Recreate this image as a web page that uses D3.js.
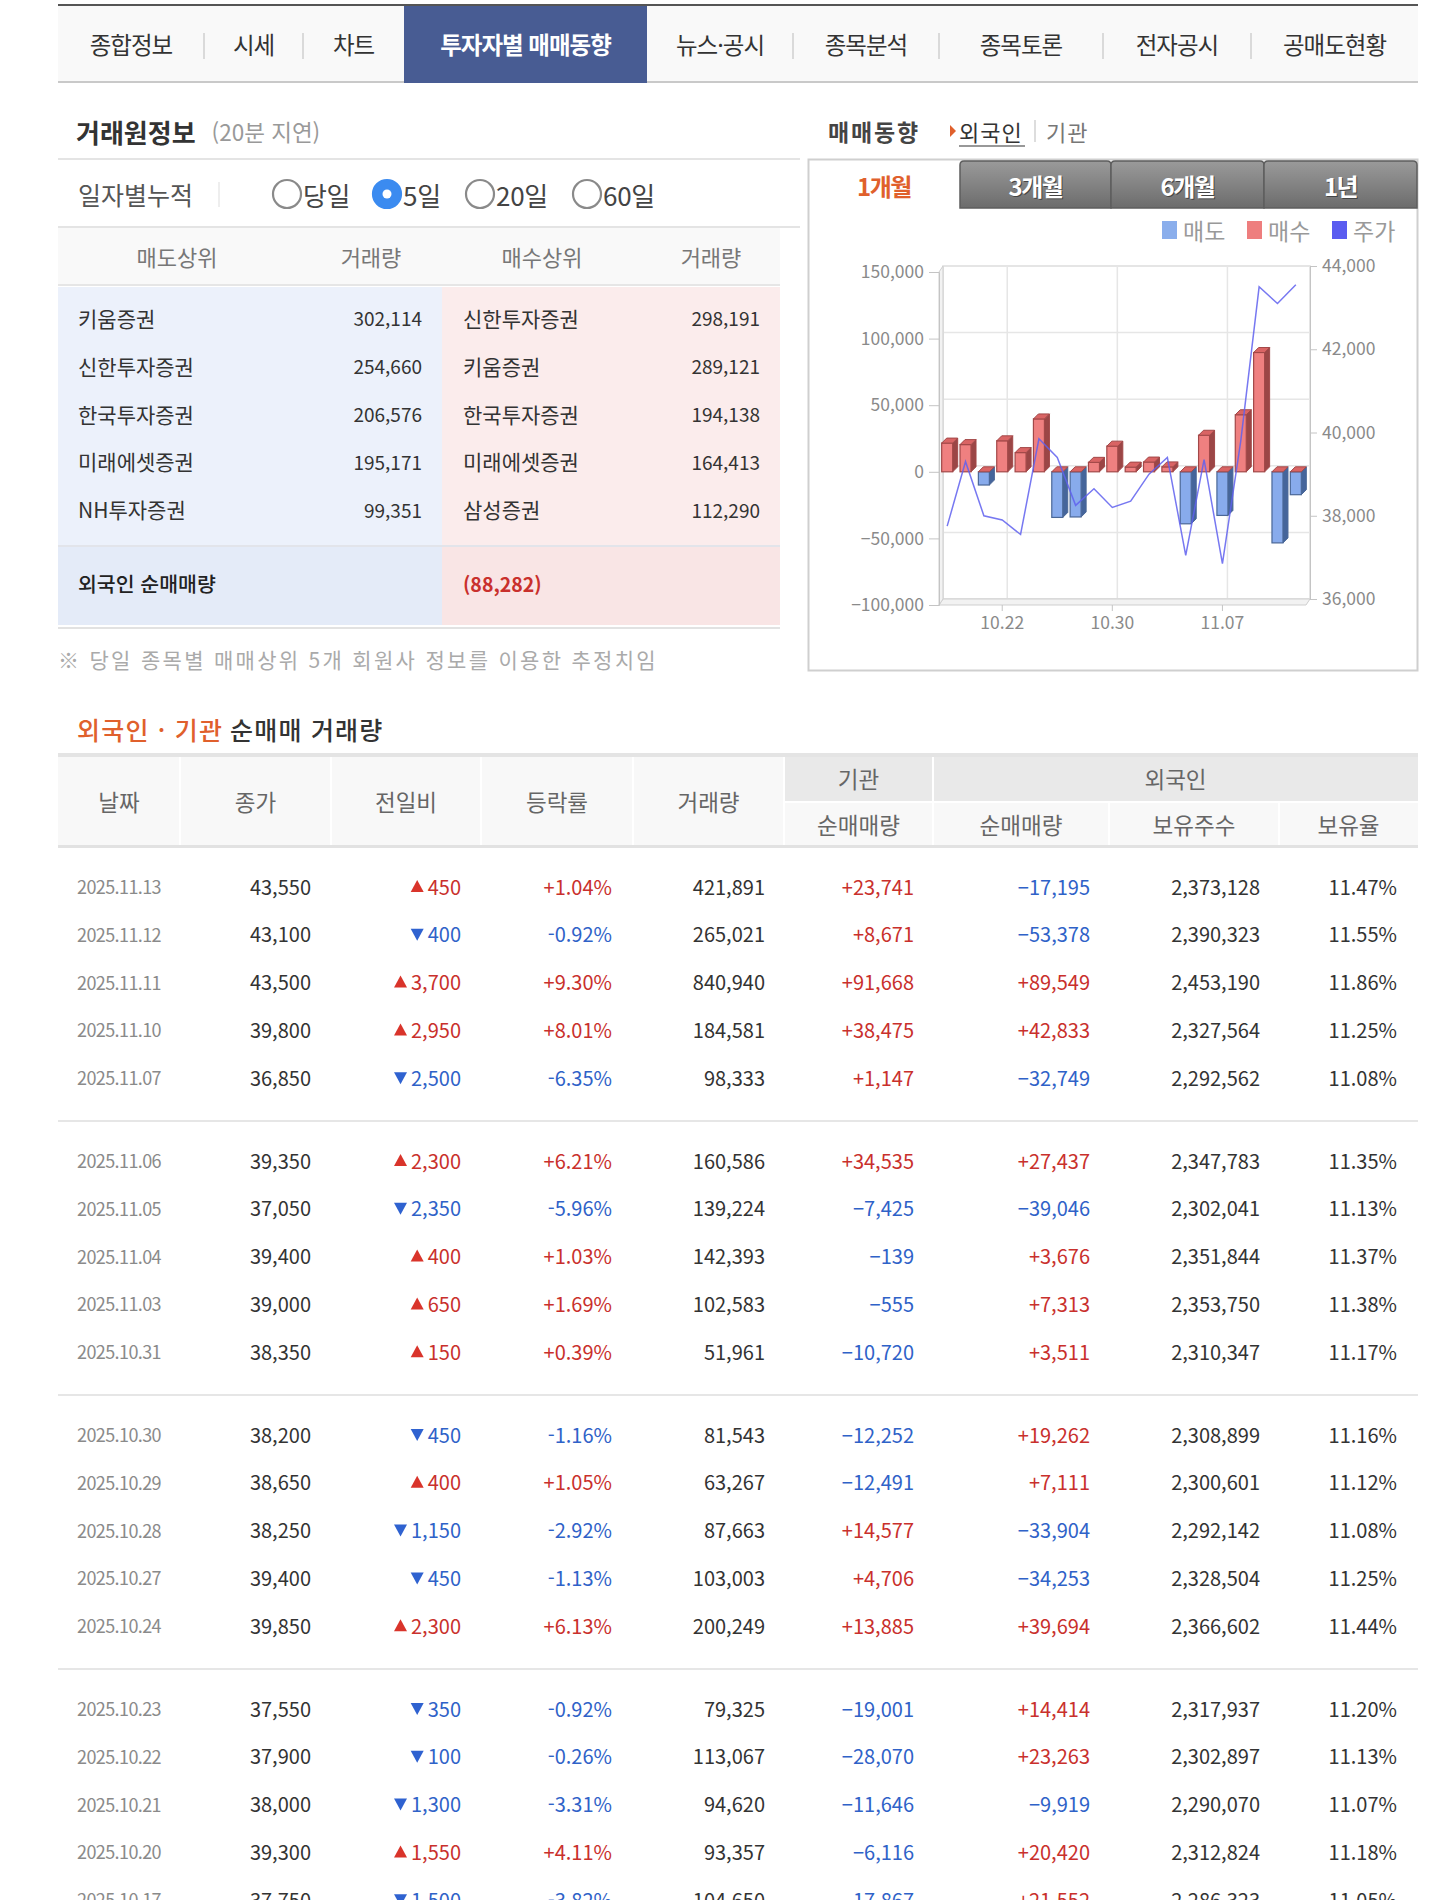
<!DOCTYPE html>
<html lang="ko">
<head>
<meta charset="utf-8">
<script src="https://cdn.jsdelivr.net/npm/d3@7"></script>
<style>
body { margin: 0; background: #fff; }
svg text { font-family: "Noto Sans CJK KR", "Noto Sans", sans-serif; }
</style>
</head>
<body>
<svg id="page"></svg>
<script>
// ---- data ----
const navItems = ['종합정보', '시세', '차트', '투자자별 매매동향', '뉴스·공시', '종목분석', '종목토론', '전자공시', '공매도현황'];
const navActive = 3;

const periodOptions = ['당일', '5일', '20일', '60일'];
const periodSelected = 1;

const sellBrokers = ['키움증권', '신한투자증권', '한국투자증권', '미래에셋증권', 'NH투자증권'];
const sellVolumes = [302114, 254660, 206576, 195171, 99351];
const buyBrokers = ['신한투자증권', '키움증권', '한국투자증권', '미래에셋증권', '삼성증권'];
const buyVolumes = [298191, 289121, 194138, 164413, 112290];
const foreignNetTotal = -88282;

const chartTabs = ['1개월', '3개월', '6개월', '1년'];
const legendItems = ['매도', '매수', '주가'];
const leftTicks = [150000, 100000, 50000, 0, -50000, -100000];
const rightTicks = [44000, 42000, 40000, 38000, 36000];
const xTickLabels = ['10.22', '10.30', '11.07'];

// newest first, as in the table
const dates = ['2025.11.13', '2025.11.12', '2025.11.11', '2025.11.10', '2025.11.07',
  '2025.11.06', '2025.11.05', '2025.11.04', '2025.11.03', '2025.10.31',
  '2025.10.30', '2025.10.29', '2025.10.28', '2025.10.27', '2025.10.24',
  '2025.10.23', '2025.10.22', '2025.10.21', '2025.10.20', '2025.10.17'];
const closes = [43550, 43100, 43500, 39800, 36850, 39350, 37050, 39400, 39000, 38350,
  38200, 38650, 38250, 39400, 39850, 37550, 37900, 38000, 39300, 37750];
const changes = [450, -400, 3700, 2950, -2500, 2300, -2350, 400, 650, 150,
  -450, 400, -1150, -450, 2300, -350, -100, -1300, 1550, -1500];
const rates = [1.04, -0.92, 9.30, 8.01, -6.35, 6.21, -5.96, 1.03, 1.69, 0.39,
  -1.16, 1.05, -2.92, -1.13, 6.13, -0.92, -0.26, -3.31, 4.11, -3.82];
const volumes = [421891, 265021, 840940, 184581, 98333, 160586, 139224, 142393, 102583, 51961,
  81543, 63267, 87663, 103003, 200249, 79325, 113067, 94620, 93357, 104650];
const instNet = [23741, 8671, 91668, 38475, 1147, 34535, -7425, -139, -555, -10720,
  -12252, -12491, 14577, 4706, 13885, -19001, -28070, -11646, -6116, -17867];
const foreignNet = [-17195, -53378, 89549, 42833, -32749, 27437, -39046, 3676, 7313, 3511,
  19262, 7111, -33904, -34253, 39694, 14414, 23263, -9919, 20420, 21552];
const foreignHold = [2373128, 2390323, 2453190, 2327564, 2292562, 2347783, 2302041, 2351844, 2353750, 2310347,
  2308899, 2300601, 2292142, 2328504, 2366602, 2317937, 2302897, 2290070, 2312824, 2286323];
const foreignRatio = [11.47, 11.55, 11.86, 11.25, 11.08, 11.35, 11.13, 11.37, 11.38, 11.17,
  11.16, 11.12, 11.08, 11.25, 11.44, 11.20, 11.13, 11.07, 11.18, 11.05];

// ---- page ----
const W = 1441, H = 1900;
const RED = '#c9302c', BLUE = '#2f62c8', ORANGE = '#e0602c';
const fmt = d3.format(',');

const svg = d3.select('#page').attr('width', W).attr('height', H);

const defs = svg.append('defs');
const grad = defs.append('linearGradient').attr('id', 'tabGrad')
  .attr('x1', 0).attr('y1', 0).attr('x2', 0).attr('y2', 1);
grad.append('stop').attr('offset', '0%').attr('stop-color', '#9a9a9a');
grad.append('stop').attr('offset', '100%').attr('stop-color', '#6c6c6c');

// nav bar
const navEdges = [58, 204, 303, 404, 647, 793, 939, 1103, 1251, 1418];
const nav = svg.append('g');
nav.append('rect').attr('x', 58).attr('y', 6).attr('width', 1360).attr('height', 76).attr('fill', '#f9f9f9');
nav.append('rect').attr('x', 58).attr('y', 4).attr('width', 1360).attr('height', 2).attr('fill', '#555');
nav.append('rect').attr('x', 58).attr('y', 81).attr('width', 1360).attr('height', 2).attr('fill', '#c9c9c9');
nav.append('rect').attr('x', navEdges[navActive]).attr('y', 6)
  .attr('width', navEdges[navActive + 1] - navEdges[navActive]).attr('height', 77).attr('fill', '#485c93');

nav.selectAll('line.sep')
  .data(d3.range(1, navItems.length).filter(i => i !== navActive && i !== navActive + 1))
  .enter().append('line')
  .attr('x1', i => navEdges[i]).attr('x2', i => navEdges[i])
  .attr('y1', 33).attr('y2', 59).attr('stroke', '#cfcfcf').attr('stroke-width', 1.5);

nav.selectAll('text')
  .data(navItems)
  .enter().append('text')
  .attr('x', (d, i) => (navEdges[i] + navEdges[i + 1]) / 2)
  .attr('y', 44)
  .attr('text-anchor', 'middle')
  .attr('dominant-baseline', 'central')
  .attr('font-size', 23.5)
  .attr('letter-spacing', -1)
  .attr('font-weight', (d, i) => i === navActive ? 700 : 400)
  .attr('fill', (d, i) => i === navActive ? '#fff' : '#333')
  .text(d => d);

// ---- left panel: 거래원정보 ----
const left = svg.append('g');
const title1 = left.append('text').attr('x', 76).attr('y', 131).attr('dominant-baseline', 'central');
title1.append('tspan').attr('font-size', 26).attr('font-weight', 700).attr('fill', '#333').text('거래원정보');
title1.append('tspan').attr('font-size', 22.5).attr('fill', '#999').attr('dx', 16).text('(20분 지연)');

left.append('rect').attr('x', 58).attr('y', 158).attr('width', 742).attr('height', 2).attr('fill', '#e4e4e4');
left.append('text').attr('x', 78).attr('y', 194).attr('dominant-baseline', 'central')
  .attr('font-size', 25).attr('fill', '#555').text('일자별누적');
left.append('line').attr('x1', 219).attr('x2', 219).attr('y1', 182).attr('y2', 207).attr('stroke', '#ddd');

const radioX = [287, 387, 480, 587];
const radios = left.selectAll('g.radio').data(periodOptions).enter().append('g')
  .attr('transform', (d, i) => `translate(${radioX[i]},194)`);
radios.append('circle').attr('r', 14)
  .attr('fill', (d, i) => i === periodSelected ? '#3b8bf0' : '#fff')
  .attr('stroke', (d, i) => i === periodSelected ? '#3b8bf0' : '#8a8a8a')
  .attr('stroke-width', 2.2);
radios.filter((d, i) => i === periodSelected).append('circle').attr('r', 4.5).attr('fill', '#fff');
radios.append('text').attr('x', 16).attr('dominant-baseline', 'central')
  .attr('font-size', 26).attr('fill', '#444').attr('letter-spacing', -0.3).text(d => d);

left.append('rect').attr('x', 58).attr('y', 226).attr('width', 742).attr('height', 2).attr('fill', '#e4e4e4');
left.append('rect').attr('x', 58).attr('y', 228).attr('width', 722).attr('height', 56).attr('fill', '#f9f9f9');
left.append('rect').attr('x', 58).attr('y', 284).attr('width', 722).attr('height', 2).attr('fill', '#e6e6e6');

const headCols = [['매도상위', 177], ['거래량', 371], ['매수상위', 542], ['거래량', 711]];
left.selectAll('text.head').data(headCols).enter().append('text')
  .attr('x', d => d[1]).attr('y', 256).attr('text-anchor', 'middle').attr('dominant-baseline', 'central')
  .attr('font-size', 22).attr('fill', '#777').text(d => d[0]);

left.append('rect').attr('x', 58).attr('y', 287).attr('width', 384).attr('height', 258).attr('fill', '#ecf1fb');
left.append('rect').attr('x', 442).attr('y', 287).attr('width', 338).attr('height', 258).attr('fill', '#fbecec');
left.append('rect').attr('x', 58).attr('y', 545).attr('width', 722).attr('height', 2).attr('fill', '#e2e4ea');
left.append('rect').attr('x', 58).attr('y', 547).attr('width', 384).attr('height', 78).attr('fill', '#e4ebf8');
left.append('rect').attr('x', 442).attr('y', 547).attr('width', 338).attr('height', 78).attr('fill', '#f9e5e5');
left.append('rect').attr('x', 58).attr('y', 627).attr('width', 722).attr('height', 2).attr('fill', '#e2e2e2');

const brokerRow = d3.scaleBand().domain(d3.range(5)).range([294, 533]);
const rowsG = left.selectAll('g.brow').data(d3.range(5)).enter().append('g')
  .attr('transform', i => `translate(0,${brokerRow(i) + brokerRow.bandwidth() / 2})`)
  .attr('fill', '#333');
rowsG.append('text').attr('x', 78).attr('dominant-baseline', 'central').attr('font-size', 21).text(i => sellBrokers[i]);
rowsG.append('text').attr('x', 422).attr('text-anchor', 'end').attr('dominant-baseline', 'central')
  .attr('font-size', 19).text(i => fmt(sellVolumes[i]));
rowsG.append('text').attr('x', 463).attr('dominant-baseline', 'central').attr('font-size', 21).text(i => buyBrokers[i]);
rowsG.append('text').attr('x', 760).attr('text-anchor', 'end').attr('dominant-baseline', 'central')
  .attr('font-size', 19).text(i => fmt(buyVolumes[i]));

left.append('text').attr('x', 78).attr('y', 583).attr('dominant-baseline', 'central')
  .attr('font-size', 20.5).attr('font-weight', 500).attr('fill', '#222').text('외국인 순매매량');
left.append('text').attr('x', 463).attr('y', 583).attr('dominant-baseline', 'central')
  .attr('font-size', 19.5).attr('font-weight', 700).attr('fill', RED)
  .text(foreignNetTotal < 0 ? `(${fmt(-foreignNetTotal)})` : fmt(foreignNetTotal));

left.append('text').attr('x', 58).attr('y', 659).attr('dominant-baseline', 'central')
  .attr('font-size', 21).attr('letter-spacing', 2.3).attr('fill', '#aaa')
  .text('※ 당일 종목별 매매상위 5개 회원사 정보를 이용한 추정치임');

// ---- right panel: 매매동향 chart ----
const right = svg.append('g');
right.append('text').attr('x', 828).attr('y', 131).attr('dominant-baseline', 'central')
  .attr('font-size', 23).attr('letter-spacing', 1.8).attr('font-weight', 700).attr('fill', '#444').text('매매동향');
right.append('path').attr('d', 'M950,125 L956,131 L950,137 Z').attr('fill', ORANGE);
right.append('text').attr('x', 959).attr('y', 131).attr('dominant-baseline', 'central')
  .attr('font-size', 22).attr('letter-spacing', 1).attr('fill', '#333').text('외국인');
right.append('line').attr('x1', 959).attr('x2', 1025).attr('y1', 146).attr('y2', 146).attr('stroke', '#333').attr('stroke-width', 1.2);
right.append('line').attr('x1', 1035).attr('x2', 1035).attr('y1', 120).attr('y2', 142).attr('stroke', '#bbb');
right.append('text').attr('x', 1046).attr('y', 131).attr('dominant-baseline', 'central')
  .attr('font-size', 22).attr('letter-spacing', 1).attr('fill', '#777').text('기관');

right.append('rect').attr('x', 808.5).attr('y', 159.5).attr('width', 609).attr('height', 511)
  .attr('fill', '#fff').attr('stroke', '#cfcfcf').attr('stroke-width', 2);

const tabEdges = [808, 960, 1111, 1264, 1417];
const tabs = right.selectAll('g.tab').data(chartTabs).enter().append('g');
tabs.filter((d, i) => i > 0).append('path')
  .attr('d', (d, i) => {
    const x0 = tabEdges[i + 1], x1 = tabEdges[i + 2];
    return `M${x0},208 L${x0},165 Q${x0},161 ${x0 + 4},161 L${x1 - 4},161 Q${x1},161 ${x1},165 L${x1},208 Z`;
  })
  .attr('fill', 'url(#tabGrad)').attr('stroke', '#5e5e5e').attr('stroke-width', 1.5);
tabs.filter((d, i) => i > 0).append('text')
  .attr('x', (d, i) => (tabEdges[i + 1] + tabEdges[i + 2]) / 2 + 1).attr('y', 186)
  .attr('text-anchor', 'middle').attr('dominant-baseline', 'central')
  .attr('font-size', 24).attr('font-weight', 700).attr('letter-spacing', -1.5).attr('fill', '#444').text(d => d);
tabs.append('text')
  .attr('x', (d, i) => (tabEdges[i] + tabEdges[i + 1]) / 2).attr('y', 185)
  .attr('text-anchor', 'middle').attr('dominant-baseline', 'central')
  .attr('font-size', 24).attr('font-weight', 700).attr('letter-spacing', -1.5)
  .attr('fill', (d, i) => i === 0 ? ORANGE : '#fff').text(d => d);

const legendColors = ['#8aaeec', '#ee7e7e', '#5a5cf0'];
const legendX = [1162, 1247, 1332];
const leg = right.selectAll('g.leg').data(legendItems).enter().append('g')
  .attr('transform', (d, i) => `translate(${legendX[i]},230)`);
leg.append('rect').attr('x', 0).attr('y', -9).attr('width', 15).attr('height', 18).attr('fill', (d, i) => legendColors[i]);
leg.append('text').attr('x', 21).attr('dominant-baseline', 'central')
  .attr('font-size', 23).attr('fill', '#999').text(d => d);

// chart data, oldest first
const chartDates = dates.slice().reverse().map(d => d.slice(5));
const chartNet = foreignNet.slice().reverse();
const chartClose = closes.slice().reverse();

const depth = { x: 4, y: -6 };
const yL = d3.scaleLinear().domain([-100000, 150000]).range([605, 272]);
const yR = d3.scaleLinear().domain([36000, 44000]).range([599, 266]);
const x = d3.scaleBand().domain(chartDates).range([938, 1305]);
const cx = d => x(d) + x.bandwidth() / 2;

const chart = right.append('g');
const backX0 = 939 + depth.x, backX1 = 1306 + depth.x;

// back wall
chart.append('rect').attr('x', backX0).attr('y', yL(150000) + depth.y)
  .attr('width', backX1 - backX0).attr('height', yL(-100000) - yL(150000))
  .attr('fill', '#fff').attr('stroke', '#dcdcdc').attr('stroke-width', 1.5);
chart.selectAll('line.hgrid').data(leftTicks).enter().append('line')
  .attr('x1', backX0).attr('x2', backX1)
  .attr('y1', d => yL(d) + depth.y).attr('y2', d => yL(d) + depth.y)
  .attr('stroke', '#e6e6e6').attr('stroke-width', 1.5);
chart.selectAll('line.vgrid').data(xTickLabels).enter().append('line')
  .attr('x1', d => cx(d) + depth.x + 1).attr('x2', d => cx(d) + depth.x + 1)
  .attr('y1', yL(150000) + depth.y).attr('y2', yL(-100000) + depth.y)
  .attr('stroke', '#e6e6e6').attr('stroke-width', 1.5);

// floor and left wall edges
chart.append('path')
  .attr('d', `M939,${yL(-100000)} L1306,${yL(-100000)} L${backX1},${yL(-100000) + depth.y} L${backX0},${yL(-100000) + depth.y} Z`)
  .attr('fill', '#f2f2f2').attr('stroke', '#cfcfcf');
chart.append('path')
  .attr('d', `M939,${yL(-100000)} L939,${yL(150000)} L${backX0},${yL(150000) + depth.y} L${backX0},${yL(-100000) + depth.y} Z`)
  .attr('fill', '#f2f2f2').attr('stroke', '#cfcfcf');

const axisFont = sel => sel.attr('fill', '#8a8a8a').attr('font-size', 17.5)
  .attr('font-family', '"DejaVu Sans Condensed", sans-serif');

// left axis
const axisL = d3.axisLeft(yL).tickValues(leftTicks).tickSize(10).tickPadding(5).tickFormat(fmt);
const gL = chart.append('g').attr('transform', 'translate(939,0)').call(axisL);
gL.select('.domain').attr('stroke', '#c4c4c4');
gL.selectAll('.tick line').attr('stroke', '#c4c4c4');
gL.selectAll('.tick text').call(axisFont);

// right axis
const axisR = d3.axisRight(yR).tickValues(rightTicks).tickSize(7).tickPadding(5).tickFormat(fmt);
const gR = chart.append('g').attr('transform', `translate(${backX1},0)`).call(axisR);
gR.select('.domain').attr('stroke', '#c4c4c4');
gR.selectAll('.tick line').attr('stroke', '#c4c4c4');
gR.selectAll('.tick text').call(axisFont);

// bottom axis
const axisB = d3.axisBottom(x).tickValues(xTickLabels).tickSize(6).tickPadding(6);
const gB = chart.append('g').attr('transform', `translate(0,${yL(-100000)})`).call(axisB);
gB.select('.domain').remove();
gB.selectAll('.tick line').attr('stroke', '#c4c4c4');
gB.selectAll('.tick text').call(axisFont);

// 3D bars
const bd = { x: 5, y: -5 }, halfW = 5.5;
const bars = chart.selectAll('g.bar').data(chartDates).enter().append('g');
bars.each(function (d, i) {
  const g = d3.select(this);
  const v = chartNet[i];
  const pos = v >= 0;
  const x0 = cx(d) - halfW, x1 = cx(d) + halfW;
  const yT = yL(Math.max(v, 0)), yB = yL(Math.min(v, 0));
  const front = pos ? '#ef8080' : '#88abec';
  const side = pos ? '#9b4646' : '#45659b';
  const edge = pos ? '#a24848' : '#4a6797';
  g.append('path')
    .attr('d', `M${x1},${yT} L${x1 + bd.x},${yT + bd.y} L${x1 + bd.x},${yB + bd.y} L${x1},${yB} Z`)
    .attr('fill', side).attr('stroke', edge).attr('stroke-width', 1);
  g.append('rect').attr('x', x0).attr('y', yT).attr('width', x1 - x0).attr('height', Math.max(yB - yT, 0.5))
    .attr('fill', front).attr('stroke', edge).attr('stroke-width', 1.2);
  g.append('path')
    .attr('d', `M${x0},${yT} L${x0 + bd.x},${yT + bd.y} L${x1 + bd.x},${yT + bd.y} L${x1},${yT} Z`)
    .attr('fill', '#d96464').attr('stroke', '#a24848').attr('stroke-width', 1);
});

// price line
const priceLine = d3.line().x(d => cx(d)).y((d, i) => yR(chartClose[i]));
chart.append('path').datum(chartDates).attr('d', priceLine)
  .attr('fill', 'none').attr('stroke', '#5f60ee').attr('stroke-width', 1.5).attr('opacity', 0.85);

// ---- bottom table ----
const tbl = svg.append('g');
const t2 = tbl.append('text').attr('x', 77).attr('y', 729).attr('dominant-baseline', 'central')
  .attr('font-size', 25).attr('letter-spacing', 1.2).attr('font-weight', 500);
t2.append('tspan').attr('fill', ORANGE).text('외국인 · 기관');
t2.append('tspan').attr('fill', '#333').attr('dx', 7).text('순매매 거래량');

const colEdges = [58, 180, 331, 481, 633, 784, 933, 1109, 1279, 1418];
tbl.append('rect').attr('x', 58).attr('y', 753).attr('width', 1360).attr('height', 4).attr('fill', '#e4e4e4');
tbl.append('rect').attr('x', 58).attr('y', 757).attr('width', 1360).attr('height', 88).attr('fill', '#f8f8f8');
tbl.append('rect').attr('x', 784).attr('y', 757).attr('width', 634).attr('height', 44).attr('fill', '#e9e9e9');
tbl.append('rect').attr('x', 784).attr('y', 801).attr('width', 634).attr('height', 2).attr('fill', '#fff');
tbl.selectAll('rect.vsep').data(colEdges.slice(1, -1)).enter().append('rect')
  .attr('x', d => d - 1).attr('y', 757).attr('width', 2).attr('height', 88).attr('fill', '#fff');
tbl.append('rect').attr('x', 1108).attr('y', 757).attr('width', 2).attr('height', 44).attr('fill', '#e9e9e9');
tbl.append('rect').attr('x', 1278).attr('y', 757).attr('width', 2).attr('height', 44).attr('fill', '#e9e9e9');
tbl.append('rect').attr('x', 58).attr('y', 845).attr('width', 1360).attr('height', 3).attr('fill', '#e2e2e2');

const colMid = i => (colEdges[i] + colEdges[i + 1]) / 2;
const headMain = [['날짜', 0], ['종가', 1], ['전일비', 2], ['등락률', 3], ['거래량', 4]];
const headSub = [['순매매량', 5], ['순매매량', 6], ['보유주수', 7], ['보유율', 8]];
const headText = (sel, yy) => sel.attr('y', yy).attr('text-anchor', 'middle').attr('dominant-baseline', 'central')
  .attr('font-size', 22.5).attr('fill', '#666');
tbl.selectAll('text.hm').data(headMain).enter().append('text')
  .attr('x', d => colMid(d[1])).call(headText, 801).text(d => d[0]);
tbl.selectAll('text.hs').data(headSub).enter().append('text')
  .attr('x', d => colMid(d[1])).call(headText, 824).text(d => d[0]);
tbl.append('text').attr('x', colMid(5)).call(headText, 778).text('기관');
tbl.append('text').attr('x', (colEdges[6] + colEdges[9]) / 2).call(headText, 778).text('외국인');

// group separators
tbl.selectAll('rect.gsep').data([1, 2, 3]).enter().append('rect')
  .attr('x', 58).attr('y', g => 846 + g * 274).attr('width', 1360).attr('height', 2).attr('fill', '#e6e6e6');

const rowY = i => 886 + Math.floor(i / 5) * 274 + (i % 5) * 47.8;
const signColor = v => v > 0 ? RED : v < 0 ? BLUE : '#333';
const signed = v => (v > 0 ? '+' : '') + fmt(v);

const rows = tbl.selectAll('g.row').data(dates).enter().append('g')
  .attr('transform', (d, i) => `translate(0,${rowY(i)})`);
const cell = (sel, xx, anchor) => sel.append('text').attr('x', xx).attr('text-anchor', anchor)
  .attr('dominant-baseline', 'central').attr('font-size', 20);

cell(rows, colMid(0), 'middle').attr('font-size', 18).attr('fill', '#8a8a8a').attr('letter-spacing', -0.6).text(d => d);
cell(rows, 311, 'end').attr('fill', '#333').text((d, i) => fmt(closes[i]));
rows.each(function (d, i) {
  const g = d3.select(this);
  const c = changes[i];
  const t = cell(g, 461, 'end').attr('fill', signColor(c)).text(fmt(Math.abs(c)));
  const w = t.node().getComputedTextLength();
  const tx = 461 - w - 4;
  g.append('path')
    .attr('d', c > 0 ? `M${tx - 13},6 L${tx},6 L${tx - 6.5},-6 Z` : `M${tx - 13},-5 L${tx},-5 L${tx - 6.5},7 Z`)
    .attr('fill', c > 0 ? '#d9342b' : '#2f62d0');
});
cell(rows, 612, 'end').attr('fill', (d, i) => signColor(rates[i]))
  .text((d, i) => (rates[i] > 0 ? '+' : '') + rates[i].toFixed(2) + '%');
cell(rows, 765, 'end').attr('fill', '#333').text((d, i) => fmt(volumes[i]));
cell(rows, 914, 'end').attr('fill', (d, i) => signColor(instNet[i])).text((d, i) => signed(instNet[i]));
cell(rows, 1090, 'end').attr('fill', (d, i) => signColor(foreignNet[i])).text((d, i) => signed(foreignNet[i]));
cell(rows, 1260, 'end').attr('fill', '#333').text((d, i) => fmt(foreignHold[i]));
cell(rows, 1397, 'end').attr('fill', '#333').text((d, i) => foreignRatio[i].toFixed(2) + '%');
</script>
</body>
</html>
